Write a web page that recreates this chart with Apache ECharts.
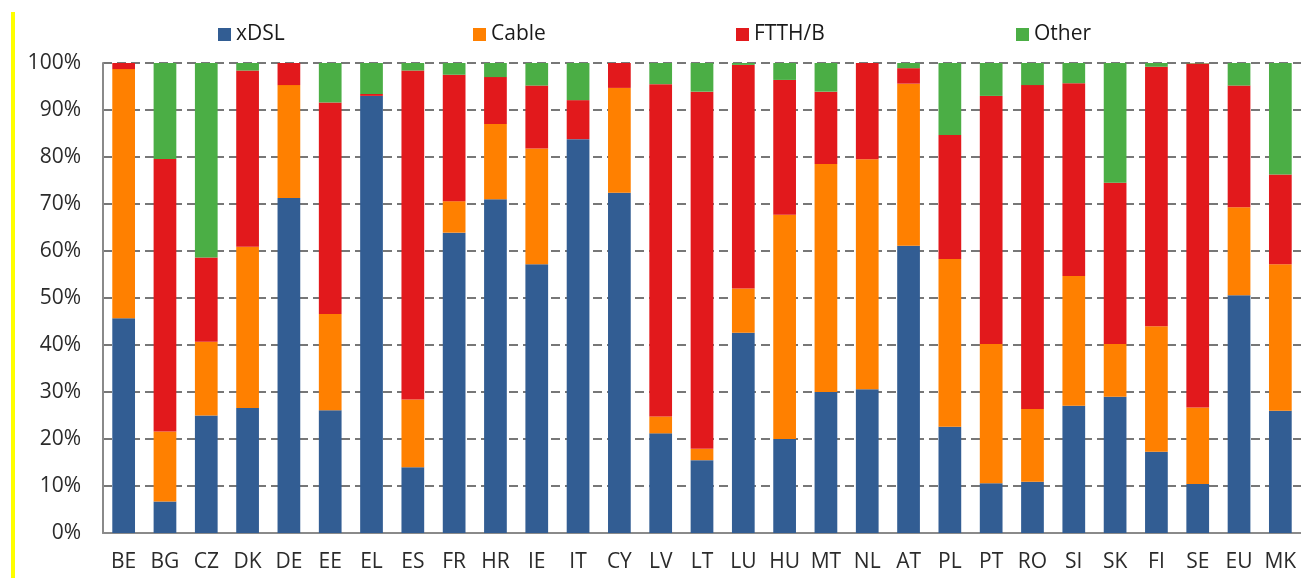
<!DOCTYPE html>
<html>
<head>
<meta charset="utf-8">
<script src="https://cdn.jsdelivr.net/npm/echarts@6/dist/echarts.min.js"></script>
<style>
html,body{margin:0;padding:0;background:#fff;}
#chart{width:1301px;height:578px;}
</style>
</head>
<body>
<div id="chart"></div>
<script>
const categories = ['BE','BG','CZ','DK','DE','EE','EL','ES','FR','HR','IE','IT','CY','LV','LT','LU','HU','MT','NL','AT','PL','PT','RO','SI','SK','FI','SE','EU','MK'];
const xDSL  = [45.7, 6.7,25.0,26.6,71.3,26.1,93.0,14.0,63.9,71.0,57.2,83.8,72.4,21.2,15.5,42.6,20.0,30.0,30.6,61.1,22.6,10.6,10.9,27.1,29.0,17.3,10.4,50.6,26.0];
const cable = [53.0,14.9,15.7,34.3,24.0,20.5, 0.0,14.4, 6.7,16.0,24.6, 0.0,22.3, 3.6, 2.4, 9.4,47.7,48.5,48.9,34.5,35.7,29.6,15.5,27.6,11.2,26.7,16.3,18.7,31.2];
const ftth  = [ 1.3,58.0,17.9,37.5, 4.7,45.0, 0.4,70.0,26.9,10.0,13.4, 8.3, 5.3,70.7,76.0,47.6,28.7,15.4,20.5, 3.3,26.4,52.8,68.9,41.0,34.3,55.2,73.2,25.9,19.1];
const other = [ 0.0,20.4,41.4, 1.6, 0.0, 8.4, 6.6, 1.6, 2.5, 3.0, 4.8, 7.9, 0.0, 4.5, 6.1, 0.4, 3.6, 6.1, 0.0, 1.1,15.3, 7.0, 4.7, 4.3,25.5, 0.8, 0.1, 4.8,23.7];
const seriesNames = ['xDSL','Cable','FTTH/B','Other'];
const colors = ['#325d93','#ff8000','#e2191c','#4bae45'];
const legendLeft = [213, 468, 731, 1011];

const FONT = 'Open Sans';
const chart = echarts.init(document.getElementById('chart'));
const seriesData = [xDSL, cable, ftth, other];
chart.setOption({
  animation: false,
  color: colors,
  legend: seriesNames.map((n, i) => ({
    left: legendLeft[i], top: 19,
    itemWidth: 13, itemHeight: 13,
    icon: 'rect',
    textStyle: {fontFamily: FONT, fontSize: 21, color: '#1a1a1a'},
    data: [n]
  })),
  grid: {left: 103, right: -4, top: 63, bottom: 45, containLabel: false},
  xAxis: {
    type: 'category',
    data: categories,
    axisLine: {lineStyle: {color: '#8a8a8a', width: 2}},
    axisTick: {show: false},
    axisLabel: {fontFamily: FONT, fontSize: 21, color: '#2b2b2b', margin: 19, interval: 0}
  },
  yAxis: {
    type: 'value', min: 0, max: 100, interval: 10,
    axisLine: {show: true, lineStyle: {color: '#8a8a8a', width: 2}},
    axisTick: {show: false},
    axisLabel: {fontFamily: FONT, fontSize: 21, color: '#2b2b2b', margin: 22, formatter: '{value}%'},
    splitLine: {lineStyle: {color: '#777', width: 2, type: [9, 5]}}
  },
  graphic: [{type: 'rect', left: 11, top: 12, shape: {width: 4, height: 566}, style: {fill: '#ffff00'}}],
  series: seriesNames.map((n, i) => ({
    name: n, type: 'bar', stack: 'total', barWidth: '55%',
    data: seriesData[i]
  }))
});
</script>
</body>
</html>
